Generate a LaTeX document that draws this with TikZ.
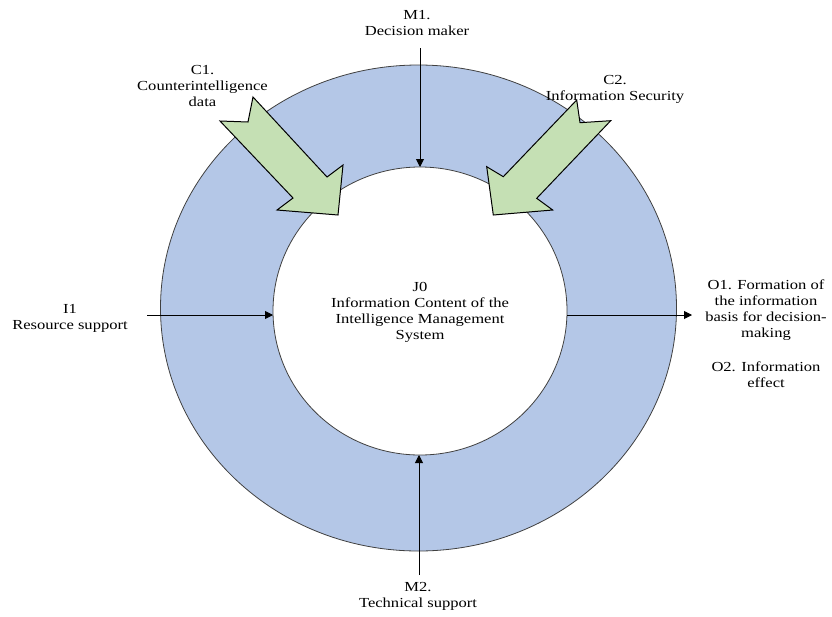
\documentclass[tikz,border=0pt]{standalone}
\usepackage{fontspec}
\setmainfont{Liberation Serif}[FakeStretch=1.2]
\usetikzlibrary{shapes.geometric,arrows.meta}
\definecolor{ringblue}{HTML}{B4C7E7}
\definecolor{arrowgreen}{HTML}{C5E0B4}
\definecolor{ringedge}{HTML}{404040}
\begin{document}
\begin{tikzpicture}[x=1pt,y=-1pt,
  lbl/.style={align=center,font=\fontsize{13.8}{16}\selectfont,inner sep=0pt},
  arr/.style={-{Triangle[length=8pt,width=8pt]},line width=0.9pt},
  ring/.style={ellipse,draw=ringedge,line width=0.8pt,inner sep=0pt,outer sep=0pt},
  blockarrow/.style={draw=black,fill=arrowgreen,line width=1pt,line join=miter}]
\useasboundingbox (0,0) rectangle (832,616);
% ring
\node[ring,fill=ringblue,minimum width=516pt,minimum height=486pt] (outer) at (418.5,308) {};
\node[ring,fill=white,minimum width=294pt,minimum height=288pt] (inner) at (420,311) {};
\node[lbl] (j0) at (420,312) {J0\\Information Content of the\\Intelligence Management\\System};
% green block arrows
\draw[blockarrow] (220,121) -- (248,122) -- (253,97) -- (327,177) -- (343,165) -- (338,215) -- (277,210) -- (293,198) -- cycle;
\draw[blockarrow] (576.7,100) -- (580,122.7) -- (610.7,120.7) -- (536.7,198.3) -- (552.7,210) -- (493.3,215) -- (486.7,166.7) -- (503.3,176.7) -- cycle;
% labels
\node[lbl] (m1) at (417,23.5) {M1.\\Decision maker};
\node[lbl] (c1) at (202.5,86) {C1.\\Counterintelligence\\data};
\node[lbl] (c2) at (615,89) {C2.\\Information Security};
\node[lbl] (i1) at (70,318) {I1\\Resource support};
\node[lbl] (o1) at (766,310) {O1. Formation of\\the information\\basis for decision-\\making};
\node[lbl] (o2) at (766,375) {O2. Information\\effect};
\node[lbl] (m2) at (418,596) {M2.\\Technical support};
% connectors
\coordinate (m1s) at (420,48);
\draw[arr] (m1s) -- (m1s |- inner.north);
\coordinate (m2s) at (419,575);
\draw[arr] (m2s) -- (m2s |- inner.south);
\coordinate (i1s) at (147,315);
\draw[arr] (i1s) -- (i1s -| inner.west);
\coordinate (o1e) at (692,315);
\draw[arr] (o1e -| inner.east) -- (o1e);
\end{tikzpicture}
\end{document}
